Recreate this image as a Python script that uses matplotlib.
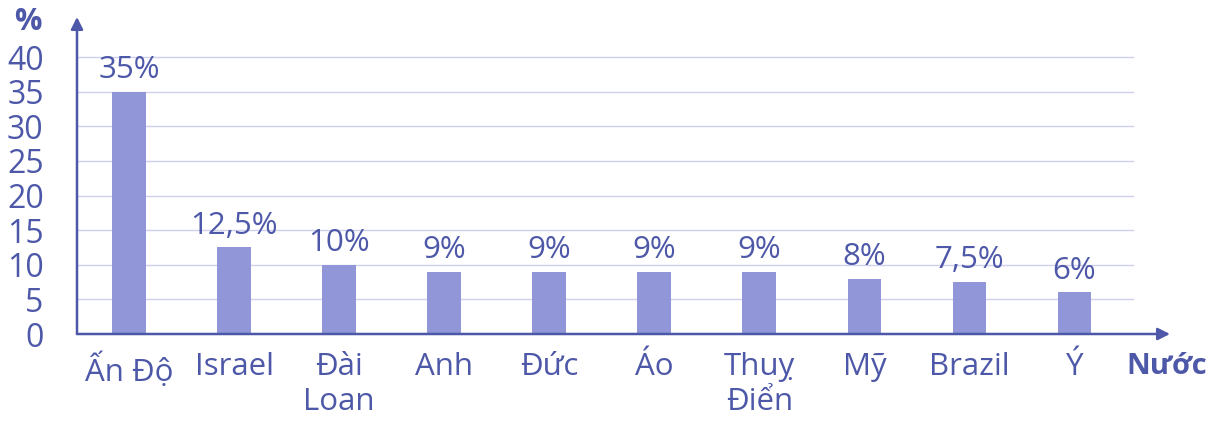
import numpy as np
import matplotlib
matplotlib.use("Agg")
import matplotlib.pyplot as plt

plt.rcParams['font.family'] = ['Open Sans', 'DejaVu Sans']

countries = ["Ấn Độ", "Israel", "Đài\nLoan", "Anh", "Đức", "Áo", "Thuỵ\nĐiển", "Mỹ", "Brazil", "Ý"]
values = [35, 12.5, 10, 9, 9, 9, 9, 8, 7.5, 6]
value_labels = ["35%", "12,5%", "10%", "9%", "9%", "9%", "9%", "8%", "7,5%", "6%"]
yticks = [0, 5, 10, 15, 20, 25, 30, 35, 40]

bar_color = "#9096d8"
text_color = "#4d58a8"
grid_color = "#cdd0ee"

fig = plt.figure(figsize=(12.11, 4.23), dpi=100)
ax = fig.add_axes([77/1211, 89/423, (1170-77)/1211, (406-89)/423])

x = np.arange(len(countries))
ax.set_xlim(-0.495, 9.91)
ax.set_ylim(0, 45.8)

# grid lines (stop before the arrow)
for t in yticks[1:]:
    ax.plot([-0.495, 9.56], [t, t], color=grid_color, lw=1.0, zorder=0)

ax.bar(x, values, width=0.32, color=bar_color, zorder=2)

for xi, v, lab in zip(x, values, value_labels):
    ax.annotate(lab, (xi, v), xytext=(0, 5), textcoords="offset points",
                ha="center", va="bottom", fontsize=22.5, color=text_color)

for s in ax.spines.values():
    s.set_visible(False)

# axes with arrows
ax.annotate("", xy=(0, 1), xytext=(0, 0), xycoords="axes fraction",
            arrowprops=dict(arrowstyle="-|>", color=text_color, lw=1.8,
                            mutation_scale=18, shrinkA=0, shrinkB=0))
ax.annotate("", xy=(1, 0), xytext=(0, 0), xycoords="axes fraction",
            arrowprops=dict(arrowstyle="-|>", color=text_color, lw=1.8,
                            mutation_scale=18, shrinkA=0, shrinkB=0))

ax.set_yticks(yticks)
ax.set_yticklabels([str(t) for t in yticks], fontsize=23, color=text_color)
ax.set_xticks(x)
ax.set_xticklabels(countries, fontsize=22.5, color=text_color, linespacing=1.2)
ax.tick_params(axis="y", length=0, pad=24)
ax.tick_params(axis="x", length=0, pad=13)
for lbl in ax.get_xticklabels():
    lbl.set_verticalalignment("top")

fig.text(28/1211, 1 - 22/423, "%", fontsize=22, fontweight="bold",
         color=text_color, ha="center", va="center")
fig.text(1167/1211, 1 - 366/423, "Nước", fontsize=21, fontweight="bold",
         color=text_color, ha="center", va="center")

fig.savefig("out.png", dpi=100)
